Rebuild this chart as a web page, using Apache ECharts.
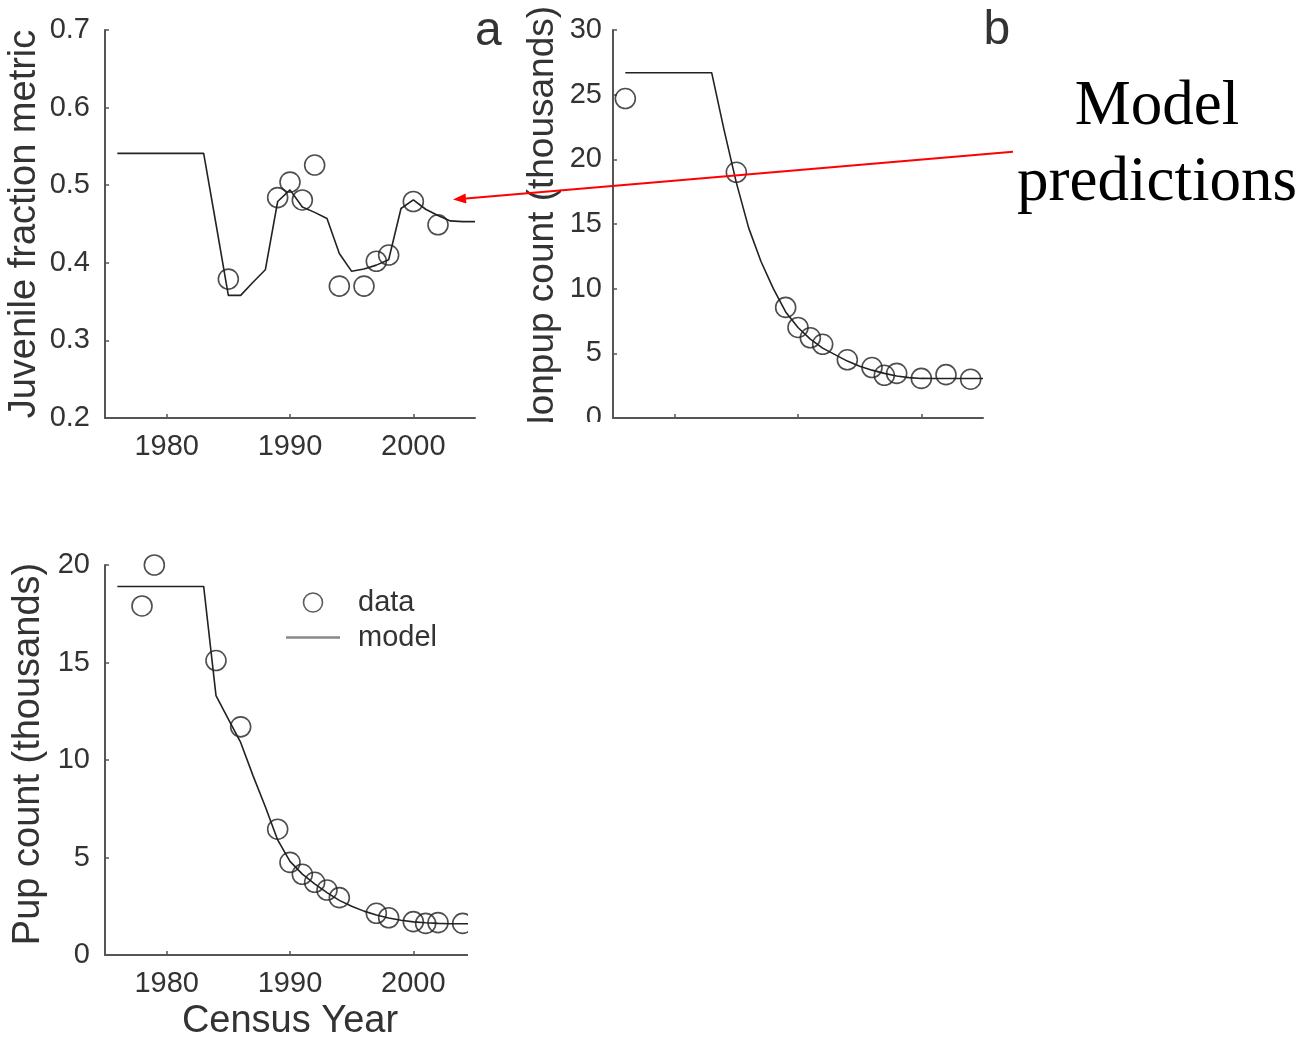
<!DOCTYPE html>
<html>
<head>
<meta charset="utf-8">
<script src="https://cdn.jsdelivr.net/npm/echarts@6/dist/echarts.min.js"></script>
<style>
html,body{margin:0;padding:0;background:#fff;}
#chart{width:1303px;height:1040px;}
</style>
</head>
<body>
<div id="chart"></div>
<script>
// Years at which the model trajectories are evaluated
const modelYears = [1976,1977,1978,1979,1980,1981,1982,1983,1984,1985,1986,1987,1988,1989,1990,
                    1991,1992,1993,1994,1995,1996,1997,1998,1999,2000,2001,2002,2003,2004,2005];

// (a) juvenile fraction metric
const juvenileModel = [0.541,0.541,0.541,0.541,0.541,0.541,0.541,0.541,0.450,0.358,0.358,0.375,0.391,0.479,0.494,
                       0.472,0.465,0.457,0.412,0.389,0.392,0.397,0.404,0.470,0.481,0.469,0.461,0.454,0.453,0.453];
const juvenileYears = [1985,1989,1990,1991,1992,1994,1996,1997,1998,2000,2002];
const juvenileObs   = [0.379,0.484,0.504,0.481,0.526,0.370,0.370,0.402,0.410,0.479,0.449];

// (b) nonpup count, thousands
const nonpupModel = [26.7,26.7,26.7,26.7,26.7,26.7,26.7,26.7,22.3,18.2,14.7,12.1,10.0,8.2,7.0,
                     6.1,5.4,4.9,4.4,4.0,3.7,3.45,3.25,3.12,3.06,3.05,3.05,3.05,3.05,3.05];
const nonpupYears = [1976,1985,1989,1990,1991,1992,1994,1996,1997,1998,2000,2002,2004];
const nonpupObs   = [24.7,19.0,8.55,7.0,6.2,5.7,4.5,3.9,3.3,3.45,3.06,3.35,3.0];

// (c) pup count, thousands
const pupModel = [18.9,18.9,18.9,18.9,18.9,18.9,18.9,18.9,13.3,12.1,10.9,9.2,7.6,5.9,4.8,
                  4.15,3.65,3.2,2.8,2.5,2.25,2.05,1.9,1.78,1.7,1.65,1.62,1.6,1.6,1.6];
const pupYears = [1978,1979,1984,1986,1989,1990,1991,1992,1993,1994,1997,1998,2000,2001,2002,2004];
const pupObs   = [17.9,20.0,15.1,11.7,6.45,4.75,4.14,3.73,3.33,2.94,2.14,1.91,1.71,1.62,1.66,1.62];

// Tick labels on the year axes
const yearTicks = [1980, 1990, 2000];

const FONT = 'Liberation Sans';
const AXIS_COLOR = '#555';
const TEXT_COLOR = '#333';
const MARK_COLOR = '#222';

function pairs(xs, ys) { return xs.map((x, i) => [x, ys[i]]); }

function yearAxis(gridIndex, showLabels, extra) {
  return Object.assign({
    type: 'value', gridIndex: gridIndex, min: 1975, max: 2005,
    axisLine: { show: true, onZero: false, lineStyle: { color: AXIS_COLOR, width: 2 } },
    axisTick: { show: true, inside: true, length: 4, customValues: yearTicks,
                lineStyle: { color: AXIS_COLOR, width: 1.5 } },
    axisLabel: { show: showLabels, customValues: yearTicks, fontSize: 29, color: TEXT_COLOR,
                 fontFamily: FONT, margin: 14, formatter: v => String(v) },
    splitLine: { show: false }
  }, extra || {});
}

function countAxis(gridIndex, min, max, interval, name, nameGap, nameSize, nameShift, labelMargin, fmt) {
  return {
    type: 'value', gridIndex: gridIndex, min: min, max: max, interval: interval,
    name: name, nameLocation: 'middle', nameGap: nameGap, nameMoveOverlap: false,
    // left padding on the rotated title nudges it upward along the axis
    nameTextStyle: { fontSize: nameSize, color: TEXT_COLOR, fontFamily: FONT,
                     padding: [0, 0, 0, nameShift] },
    axisLine: { show: true, onZero: false, lineStyle: { color: AXIS_COLOR, width: 2 } },
    axisTick: { show: true, inside: true, length: 4, lineStyle: { color: AXIS_COLOR, width: 1.5 } },
    axisLabel: { fontSize: 29, color: TEXT_COLOR, fontFamily: FONT, margin: labelMargin,
                 formatter: fmt },
    splitLine: { show: false }
  };
}

const lineStyle = { color: MARK_COLOR, width: 1.6 };
const ringStyle = { color: 'rgba(0,0,0,0)', borderColor: MARK_COLOR, borderWidth: 1.6 };

function modelSeries(name, idx, values) {
  return { name: name, type: 'line', xAxisIndex: idx, yAxisIndex: idx,
           data: pairs(modelYears, values), symbol: 'none', showSymbol: false,
           color: MARK_COLOR, lineStyle: lineStyle, silent: true, z: 2 };
}
function dataSeries(name, idx, years, values) {
  return { name: name, type: 'scatter', xAxisIndex: idx, yAxisIndex: idx,
           data: pairs(years, values), symbol: 'circle', symbolSize: 20,
           itemStyle: ringStyle, silent: true, z: 3 };
}

// Red arrow pointing from the annotation to the model curve in panel (a)
const arrowTail = [1013, 151.7];
const arrowTip = [453, 199.5];
const dx = arrowTail[0] - arrowTip[0], dy = arrowTail[1] - arrowTip[1];
const len = Math.sqrt(dx * dx + dy * dy);
const ux = dx / len, uy = dy / len, px = -uy, py = ux;
const headLen = 13, headHalf = 5;
const headBase = [arrowTip[0] + ux * headLen, arrowTip[1] + uy * headLen];

// Legend key for the model curve: a thin bar centred in a 54x19 box
const modelKey = 'path://M0,0M54,19M0,8.3L54,8.3L54,10.7L0,10.7Z';

const chart = echarts.init(document.getElementById('chart'), null, { renderer: 'canvas' });

chart.setOption({
  animation: false,
  backgroundColor: '#fff',
  textStyle: { fontFamily: FONT },
  grid: [
    { left: 105, top: 30, width: 370, height: 388, outerBoundsMode: 'none' },
    { left: 613, top: 30, width: 370, height: 388, outerBoundsMode: 'none' },
    { left: 105, top: 565, width: 370, height: 390, outerBoundsMode: 'none' }
  ],
  xAxis: [
    yearAxis(0, true),
    yearAxis(1, false),
    yearAxis(2, true, {
      name: 'Census Year', nameLocation: 'middle', nameGap: 48, nameMoveOverlap: false,
      nameTextStyle: { fontSize: 38, color: TEXT_COLOR, fontFamily: FONT }
    })
  ],
  yAxis: [
    countAxis(0, 0.2, 0.7, 0.1, 'Juvenile fraction metric', 61, 38, 0, 15, v => v.toFixed(1)),
    countAxis(1, 0, 30, 5, 'Nonpup count (thousands)', 52, 37, 0, 11, v => String(v)),
    countAxis(2, 0, 20, 5, 'Pup count (thousands)', 57, 38, 12, 15, v => String(v))
  ],
  legend: {
    data: [
      { name: 'data', icon: 'circle',
        itemStyle: { color: 'rgba(0,0,0,0)', borderColor: '#333', borderWidth: 1.6 } },
      { name: 'model', icon: modelKey,
        itemStyle: { color: '#888', borderWidth: 0 } }
    ],
    orient: 'vertical', left: 281, top: 583, itemWidth: 54, itemHeight: 19, itemGap: 6,
    selectedMode: false,
    textStyle: { fontSize: 29, color: TEXT_COLOR, fontFamily: FONT, padding: [0, 0, 0, 13] }
  },
  series: [
    modelSeries('juvenile model', 0, juvenileModel),
    dataSeries('juvenile data', 0, juvenileYears, juvenileObs),
    modelSeries('nonpup model', 1, nonpupModel),
    dataSeries('nonpup data', 1, nonpupYears, nonpupObs),
    modelSeries('model', 2, pupModel),
    dataSeries('data', 2, pupYears, pupObs)
  ],
  graphic: [
    // panel (b) is trimmed along its lower edge, panel (c) along its right edge
    { type: 'rect', z: 100, shape: { x: 500, y: 422, width: 620, height: 60 }, style: { fill: '#fff' } },
    { type: 'rect', z: 100, shape: { x: 468, y: 545, width: 40, height: 430 }, style: { fill: '#fff' } },
    { type: 'text', z: 110, style: { text: 'a', x: 475, y: 31.5, font: '48px "Liberation Sans"',
        fill: TEXT_COLOR, align: 'left', verticalAlign: 'middle' } },
    { type: 'text', z: 110, style: { text: 'b', x: 983.5, y: 30.5, font: '48px "Liberation Sans"',
        fill: TEXT_COLOR, align: 'left', verticalAlign: 'middle' } },
    { type: 'text', z: 110, style: { text: 'Model', x: 1157, y: 107, font: '63px "Liberation Serif"',
        fill: '#000', align: 'center', verticalAlign: 'middle' } },
    { type: 'text', z: 110, style: { text: 'predictions', x: 1157, y: 183, font: '63px "Liberation Serif"',
        fill: '#000', align: 'center', verticalAlign: 'middle' } },
    { type: 'line', z: 110, shape: { x1: arrowTail[0], y1: arrowTail[1], x2: headBase[0], y2: headBase[1] },
      style: { stroke: '#f00', lineWidth: 2 } },
    { type: 'polygon', z: 110, shape: { points: [
        arrowTip,
        [headBase[0] + px * headHalf, headBase[1] + py * headHalf],
        [headBase[0] - px * headHalf, headBase[1] - py * headHalf]
      ] }, style: { fill: '#f00' } }
  ]
});
</script>
</body>
</html>
